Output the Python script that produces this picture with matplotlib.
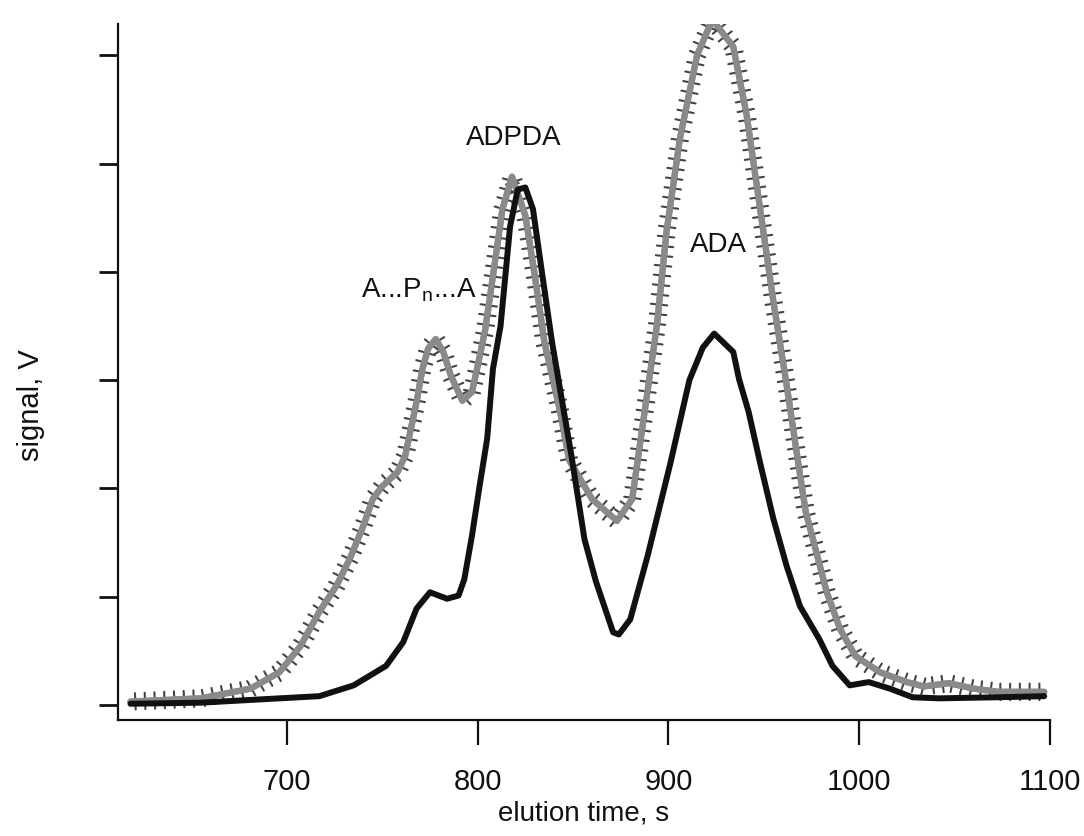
import numpy as np
import matplotlib.pyplot as plt
import matplotlib.patheffects as pe

plt.rcParams['font.family'] = ['Liberation Sans', 'DejaVu Sans']
plt.rcParams['mathtext.fontset'] = 'custom'
plt.rcParams['mathtext.rm'] = 'Liberation Sans'

# values (elution time in s, signal, arbitrary V scale)
gray_t = [618, 655, 681, 696, 707, 717, 726, 733, 740, 745, 750, 758, 762, 765,
          768, 771, 774, 778, 782, 786, 792, 797, 800, 804, 808, 813, 818, 825,
          830, 835, 843, 848, 860, 873, 881, 886, 894, 899, 906, 915, 923, 934,
          941, 948, 955, 962, 968, 972, 978, 983, 990, 998, 1011, 1025, 1034,
          1047, 1060, 1073, 1097]
gray_v = [0.03, 0.06, 0.15, 0.30, 0.54, 0.86, 1.10, 1.35, 1.65, 1.90, 2.02, 2.15,
          2.30, 2.55, 2.80, 3.10, 3.29, 3.38, 3.26, 3.04, 2.81, 2.89, 3.13, 3.47,
          3.96, 4.58, 4.88, 4.52, 3.96, 3.35, 2.73, 2.26, 1.90, 1.70, 1.90, 2.52,
          3.51, 4.37, 5.23, 6.00, 6.33, 6.08, 5.45, 4.59, 3.73, 2.95, 2.24, 1.78,
          1.38, 1.04, 0.70, 0.45, 0.30, 0.21, 0.17, 0.20, 0.15, 0.12, 0.12]

black_t = [618, 655, 696, 717, 735, 752, 761, 768, 775, 784, 790, 793, 797, 801,
           805, 808, 812, 817, 821, 825, 829, 834, 839, 845, 849, 856, 862, 871,
           874, 880, 889, 901, 911, 918, 924, 934, 937, 942, 948, 955, 962, 969,
           979, 986, 995, 1005, 1016, 1028, 1042, 1073, 1097]
black_v = [0.01, 0.02, 0.06, 0.08, 0.18, 0.36, 0.58, 0.89, 1.04, 0.98, 1.01, 1.16,
           1.56, 2.02, 2.46, 3.10, 3.50, 4.42, 4.76, 4.78, 4.58, 3.96, 3.35, 2.73,
           2.32, 1.53, 1.14, 0.67, 0.65, 0.79, 1.37, 2.23, 3.00, 3.30, 3.43, 3.26,
           3.01, 2.71, 2.24, 1.72, 1.28, 0.91, 0.61, 0.36, 0.18, 0.21, 0.15, 0.07,
           0.06, 0.07, 0.08]

x_ticks = [700, 800, 900, 1000, 1100]
y_ticks = [0, 1, 2, 3, 4, 5, 6]

labels = ['ADPDA', 'ADA', r'A...P$_{\rm n}$...A']
label_t = [819, 926, 769]
label_v = [5.18, 4.19, 3.78]

fig = plt.figure(figsize=(10.84, 8.37), dpi=100)
ax = fig.add_axes([0.1089, 0.1386, 0.8597, 0.8315])

# gray trace: band with crossing "+" ticks
ticks_fx = [pe.withTickedStroke(spacing=7, angle=90, length=0.85,
                                linewidth=1.5, foreground='#444444'),
            pe.withTickedStroke(spacing=7, angle=-90, length=0.85,
                                linewidth=1.5, foreground='#444444')]
ax.plot(gray_t, gray_v, color='#8a8a8a', lw=4.5, solid_capstyle='round',
        solid_joinstyle='round', path_effects=ticks_fx)
ax.plot(black_t, black_v, color='#111111', lw=4.3, solid_capstyle='round',
        solid_joinstyle='round')

for s, t, v in zip(labels, label_t, label_v):
    ax.text(t, v, s, fontsize=20, ha='center', va='baseline', color='#111111')

ax.set_xlim(611.5, 1100)
ax.set_ylim(-0.14, 6.29)
ax.set_xticks(x_ticks)
ax.set_yticks(y_ticks)
ax.set_yticklabels([])

for side in ['top', 'right']:
    ax.spines[side].set_visible(False)
for side in ['left', 'bottom']:
    ax.spines[side].set_linewidth(1.6)
    ax.spines[side].set_color('#111111')

ax.tick_params(axis='x', direction='out', length=18, width=1.6, pad=16,
               labelsize=21, colors='#111111')
ax.tick_params(axis='y', direction='out', length=14, width=2.0, colors='#111111')

ax.set_xlabel('elution time, s', fontsize=20, labelpad=3, color='#111111')
ax.set_ylabel('signal, V', fontsize=21, color='#111111')
ax.yaxis.set_label_coords(-0.078, 0.454)

fig.savefig('out.png', dpi=100)
